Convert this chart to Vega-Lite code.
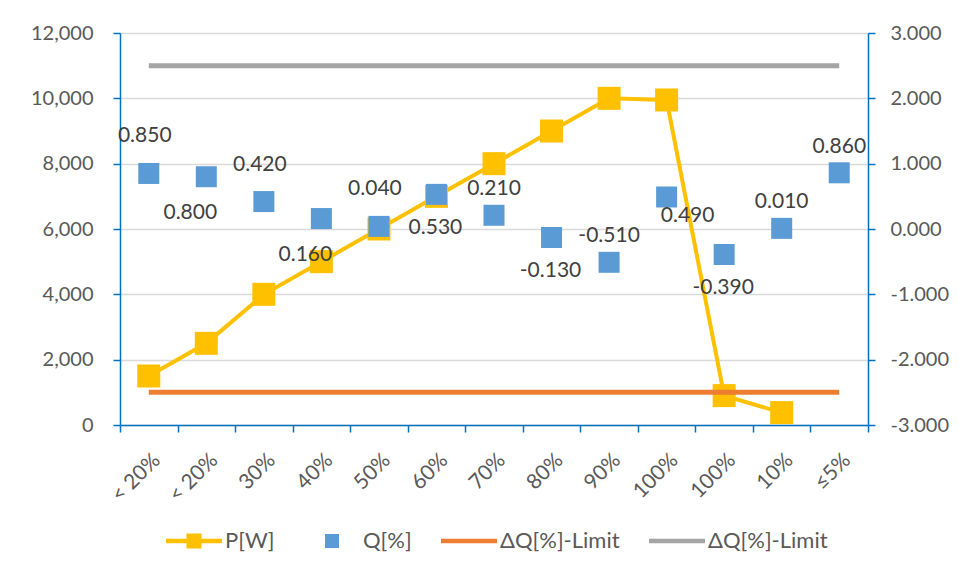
{
  "$schema": "https://vega.github.io/schema/vega-lite/v6.json",
  "autosize": {"type": "none"},
  "width": 748,
  "height": 392,
  "padding": {"left": 120, "top": 33, "right": 91, "bottom": 153},
  "background": "white",
  "config": {
    "font": "Lato",
    "view": {"stroke": null},
    "axis": {"labelFont": "Lato", "labelColor": "#595959", "labelFontSize": 20, "domainColor": "#0070C0", "tickColor": "#0070C0", "tickSize": 7, "domainWidth": 1.5, "tickWidth": 1.5, "title": null},
    "legend": {"labelFont": "Lato", "labelColor": "#595959", "labelFontSize": 22}
  },
  "datasets": {
    "p": [
      {"idx": 1, "w": 1500}, {"idx": 2, "w": 2500}, {"idx": 3, "w": 4000}, {"idx": 4, "w": 5000},
      {"idx": 5, "w": 6000}, {"idx": 6, "w": 7000}, {"idx": 7, "w": 8000}, {"idx": 8, "w": 9000},
      {"idx": 9, "w": 10000}, {"idx": 10, "w": 9950}, {"idx": 11, "w": 900}, {"idx": 12, "w": 380}
    ],
    "q": [
      {"idx": 1, "q": 0.85}, {"idx": 2, "q": 0.8}, {"idx": 3, "q": 0.42}, {"idx": 4, "q": 0.16},
      {"idx": 5, "q": 0.04}, {"idx": 6, "q": 0.53}, {"idx": 7, "q": 0.21}, {"idx": 8, "q": -0.13},
      {"idx": 9, "q": -0.51}, {"idx": 10, "q": 0.49}, {"idx": 11, "q": -0.39}, {"idx": 12, "q": 0.01},
      {"idx": 13, "q": 0.86}
    ],
    "limits": [
      {"idx": 1, "series": "lo", "q": -2.5}, {"idx": 13, "series": "lo", "q": -2.5},
      {"idx": 1, "series": "hi", "q": 2.5}, {"idx": 13, "series": "hi", "q": 2.5}
    ],
    "legendrows": [
      {"idx": 1, "series": "P"}, {"idx": 1, "series": "Q"}, {"idx": 1, "series": "lo"}, {"idx": 1, "series": "hi"}
    ]
  },
  "encoding": {
    "x": {
      "field": "idx", "type": "ordinal",
      "scale": {"type": "band", "domain": [1,2,3,4,5,6,7,8,9,10,11,12,13], "paddingInner": 0, "paddingOuter": 0},
      "axis": {
        "tickBand": "extent", "labelAngle": -45, "labelPadding": 17, "labelFontSize": 21,
        "labelExpr": "['< 20%','< 20%','30%','40%','50%','60%','70%','80%','90%','100%','100%','10%','≤5%'][datum.value - 1]"
      }
    }
  },
  "layer": [
    {
      "data": {"name": "p"},
      "encoding": {
        "y": {"field": "w", "type": "quantitative",
          "scale": {"domain": [0, 12000], "nice": false, "zero": false},
          "axis": {"orient": "left", "values": [0,2000,4000,6000,8000,10000,12000], "format": ",.0f", "labelPadding": 20, "grid": true, "gridColor": "#D9D9D9", "gridWidth": 1.5}}
      },
      "layer": [
        {"mark": {"type": "line", "color": "#FFC000", "strokeWidth": 4}},
        {"mark": {"type": "point", "shape": "square", "filled": true, "color": "#FFC000", "opacity": 1, "size": 529}}
      ]
    },
    {
      "encoding": {
        "y": {"field": "q", "type": "quantitative",
          "scale": {"domain": [-3, 3], "nice": false, "zero": false},
          "axis": {"orient": "right", "values": [-3,-2,-1,0,1,2,3], "labelExpr": "replace(format(datum.value, '.3f'), '\u2212', '-')", "labelPadding": 15, "grid": false}}
      },
      "layer": [
        {
          "data": {"name": "limits"},
          "transform": [{"filter": "datum.series == 'lo'"}],
          "mark": {"type": "line", "strokeWidth": 5, "color": "#ED7D31"}
        },
        {
          "data": {"name": "limits"},
          "transform": [{"filter": "datum.series == 'hi'"}],
          "mark": {"type": "line", "strokeWidth": 5, "color": "#A5A5A5"}
        },
        {
          "data": {"name": "q"},
          "mark": {"type": "point", "shape": "square", "filled": true, "color": "#5B9BD5", "opacity": 1, "size": 441}
        },
        {
          "data": {"name": "q"},
          "transform": [
            {"filter": "indexof([1,3,5], datum.idx) >= 0"},
            {"calculate": "replace(format(datum.q, '.3f'), '\u2212', '-')", "as": "label"}
          ],
          "mark": {"type": "text", "font": "Lato", "fontSize": 21, "color": "#404040", "dy": -37, "dx": -4},
          "encoding": {"text": {"field": "label"}}
        },
        {
          "data": {"name": "q"},
          "transform": [
            {"filter": "indexof([7,9,12,13], datum.idx) >= 0"},
            {"calculate": "replace(format(datum.q, '.3f'), '\u2212', '-')", "as": "label"}
          ],
          "mark": {"type": "text", "font": "Lato", "fontSize": 21, "color": "#404040", "dy": -26, "dx": 0},
          "encoding": {"text": {"field": "label"}}
        },
        {
          "data": {"name": "q"},
          "transform": [
            {"filter": "indexof([2,4], datum.idx) >= 0"},
            {"calculate": "replace(format(datum.q, '.3f'), '\u2212', '-')", "as": "label"}
          ],
          "mark": {"type": "text", "font": "Lato", "fontSize": 21, "color": "#404040", "dy": 36, "dx": -16},
          "encoding": {"text": {"field": "label"}}
        },
        {
          "data": {"name": "q"},
          "transform": [
            {"filter": "indexof([6,8,11], datum.idx) >= 0"},
            {"calculate": "replace(format(datum.q, '.3f'), '\u2212', '-')", "as": "label"}
          ],
          "mark": {"type": "text", "font": "Lato", "fontSize": 21, "color": "#404040", "dy": 34, "dx": -1},
          "encoding": {"text": {"field": "label"}}
        },
        {
          "data": {"name": "q"},
          "transform": [
            {"filter": "datum.idx == 10"},
            {"calculate": "replace(format(datum.q, '.3f'), '\u2212', '-')", "as": "label"}
          ],
          "mark": {"type": "text", "font": "Lato", "fontSize": 21, "color": "#404040", "dy": 19, "dx": 21},
          "encoding": {"text": {"field": "label"}}
        },
        {
          "data": {"name": "legendrows"},
          "mark": {"type": "point", "filled": true, "opacity": 0},
          "encoding": {
            "y": {"value": 0},
            "color": {"field": "series", "type": "nominal",
              "scale": {"domain": ["P","Q","lo","hi"], "range": ["#FFC000","#5B9BD5","#ED7D31","#A5A5A5"]},
              "legend": {
                "orient": "none", "direction": "horizontal", "legendX": 46, "legendY": 480,
                "title": null, "symbolSize": 3136, "symbolOpacity": 1, "symbolStrokeWidth": 0,
                "labelOffset": 3, "columnPadding": 29,
                "labelExpr": "datum.value == 'P' ? 'P[W]' : datum.value == 'Q' ? 'Q[%]' : '\u0394Q[%]-Limit'"
              }},
            "shape": {"field": "series", "type": "nominal",
              "scale": {"domain": ["P","Q","lo","hi"], "range": [
                "M-1,-0.08H1V0.08H-1Z M-0.27,-0.27H0.27V0.27H-0.27Z",
                "M-0.25,-0.25H0.25V0.25H-0.25Z",
                "M-1,-0.08H1V0.08H-1Z",
                "M-1,-0.08H1V0.08H-1Z"
              ]},
              "legend": {
                "orient": "none", "direction": "horizontal", "legendX": 46, "legendY": 480,
                "title": null, "symbolSize": 3136, "symbolOpacity": 1, "symbolStrokeWidth": 0,
                "labelOffset": 3, "columnPadding": 29,
                "labelExpr": "datum.value == 'P' ? 'P[W]' : datum.value == 'Q' ? 'Q[%]' : '\u0394Q[%]-Limit'"
              }}
          }
        }
      ]
    }
  ],
  "resolve": {"scale": {"y": "independent"}}
}
